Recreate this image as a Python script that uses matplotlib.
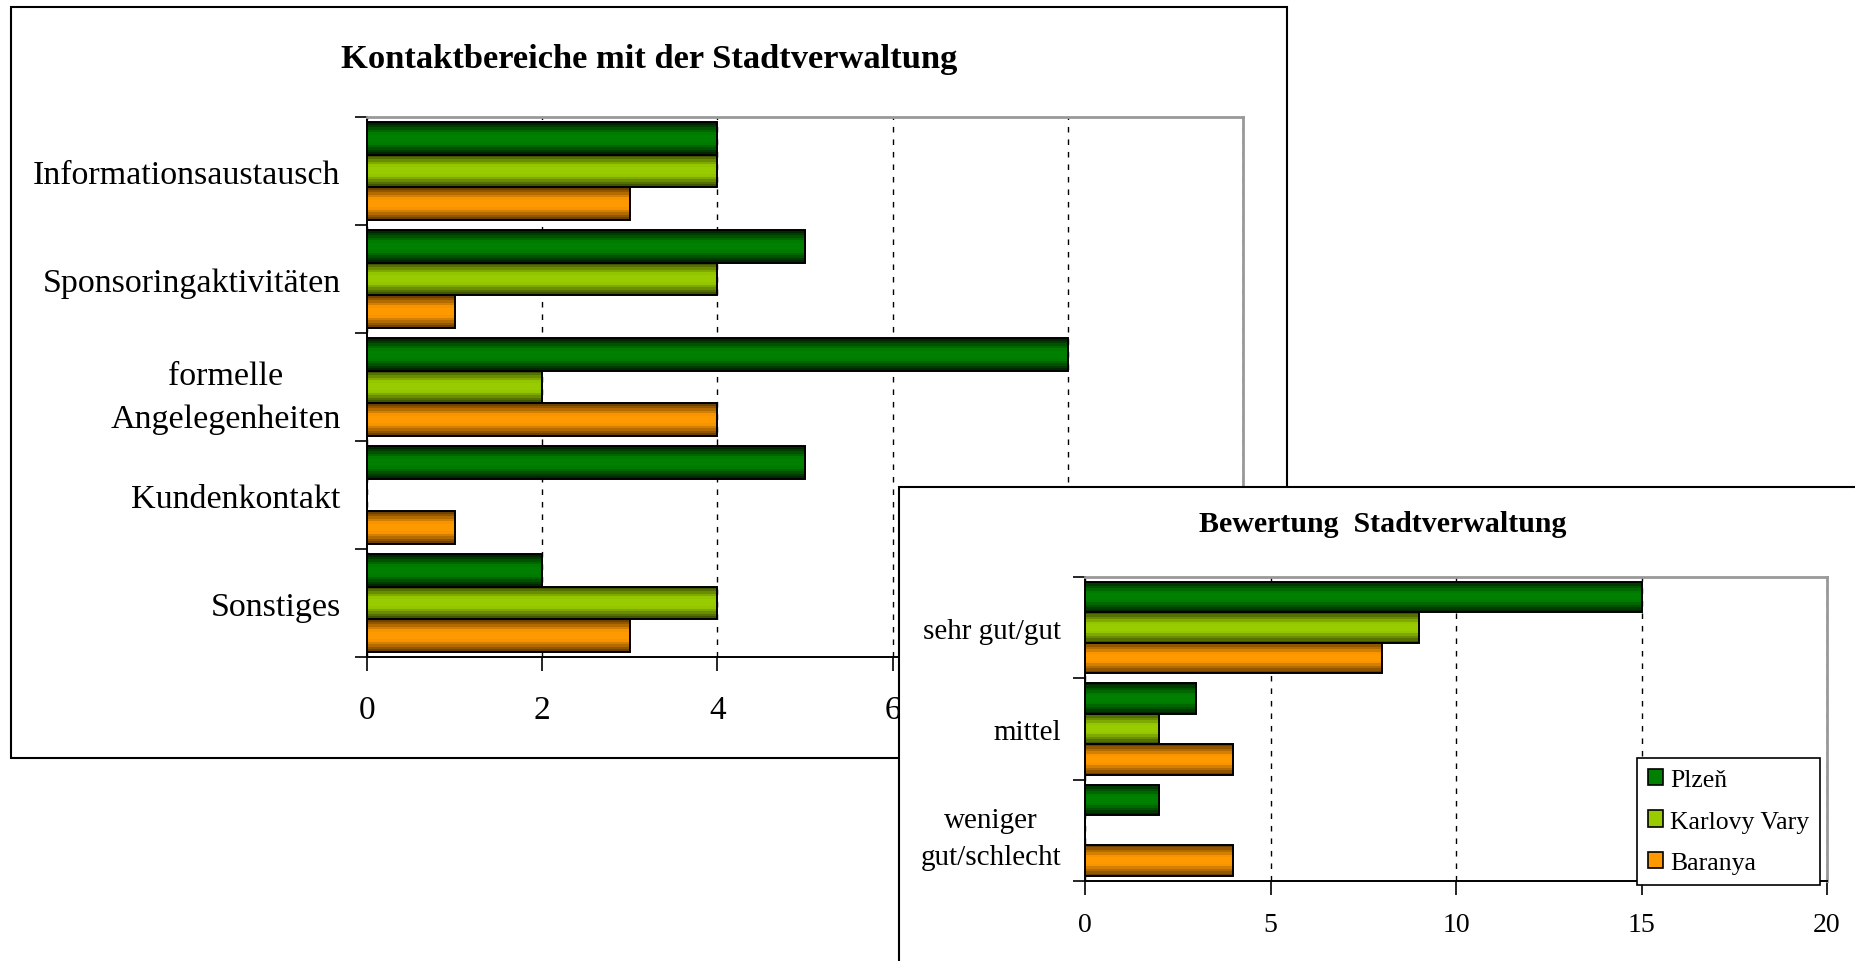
import numpy as np
import matplotlib
matplotlib.use("Agg")
import matplotlib.pyplot as plt
from matplotlib.colors import LinearSegmentedColormap
from matplotlib.patches import Rectangle, Patch

plt.rcParams["font.family"] = ["Liberation Serif", "DejaVu Serif"]

# --- data ---
series = ["Plzeň", "Karlovy Vary", "Baranya"]

kontakt_cats = ["Informationsaustausch", "Sponsoringaktivitäten",
                "formelle\nAngelegenheiten", "Kundenkontakt", "Sonstiges"]
kontakt_plzen = [4, 5, 8, 5, 2]
kontakt_kv = [4, 4, 2, 0, 4]
kontakt_baranya = [3, 1, 4, 1, 3]

bewertung_cats = ["sehr gut/gut", "mittel", "weniger\ngut/schlecht"]
bewertung_plzen = [15, 3, 2]
bewertung_kv = [9, 2, 0]
bewertung_baranya = [8, 4, 4]

# light (centre) and dark (edge) shade of each series
light = ["#008000", "#99cc00", "#ff9900"]
dark = ["#002800", "#405500", "#6e4200"]

H = 0.3  # bar height per series


def shaded_bars(ax, cats, values, xmax, ticks, label_size, tick_size, tick_pad):
    y = np.arange(len(cats))
    for i, vals in enumerate(values):
        bars = ax.barh(y - H + i * H, vals, height=H, facecolor="none",
                       edgecolor="black", linewidth=1.4, zorder=3)
        cmap = LinearSegmentedColormap.from_list(
            "c%d" % i, [(0, light[i]), (0.3, light[i]), (1, dark[i])])
        grad = np.abs(np.linspace(-1, 1, 13)).reshape(-1, 1)
        for b in bars:
            if b.get_width() == 0:
                continue
            x0, y0 = b.get_x(), b.get_y()
            im = ax.imshow(grad, cmap=cmap, aspect="auto", interpolation="nearest",
                           extent=(x0, x0 + b.get_width(), y0 + b.get_height(), y0),
                           zorder=2)
            im.set_clip_path(b)

    ax.set_xlim(0, xmax)
    ax.set_ylim(len(cats) - 0.5, -0.5)
    ax.set_aspect("auto")
    ax.set_xticks(ticks)
    ax.set_xticklabels([str(t) for t in ticks], fontsize=tick_size)
    ax.set_yticks(np.arange(len(cats) + 1) - 0.5)
    ax.set_yticklabels([])
    ax.set_yticks(y, minor=True)
    ax.set_yticklabels(cats, minor=True, fontsize=label_size, ha="right",
                       multialignment="center", linespacing=1.55)
    ax.tick_params(axis="y", which="major", length=9, width=1.2, direction="out")
    ax.tick_params(axis="y", which="minor", length=0, pad=tick_pad[1])
    ax.tick_params(axis="x", length=10, width=1.2, direction="out", pad=tick_pad[0])
    ax.xaxis.grid(True, linestyle=(0, (4, 5)), color="black", linewidth=1.0)
    ax.set_axisbelow(True)
    for s in ["left", "bottom"]:
        ax.spines[s].set_color("black")
        ax.spines[s].set_linewidth(1.4)
    for s in ["top", "right"]:
        ax.spines[s].set_color("#999999")
        ax.spines[s].set_linewidth(2)


fig = plt.figure(figsize=(18.56, 9.62), dpi=100)

# chart 1 frame
box1 = Rectangle((0.0059, 0.211), 0.6875, 0.7807, transform=fig.transFigure,
                 facecolor="white", edgecolor="black", linewidth=1.5, zorder=0.5)
fig.patches.append(box1)

ax1 = fig.add_axes([0.1977, 0.3160, 0.4720, 0.5613])
ax1.set_zorder(1)
shaded_bars(ax1, kontakt_cats, [kontakt_plzen, kontakt_kv, kontakt_baranya],
            10, [0, 2, 4, 6, 8, 10], 24.5, 24, (17, 19))
fig.text(0.3497, 0.9385, "Kontaktbereiche mit der Stadtverwaltung",
         ha="center", va="center", fontsize=24.8, fontweight="bold", zorder=1)

# chart 2 frame (overlapping)
box2 = Rectangle((0.4844, -0.02), 0.53, 0.5127, transform=fig.transFigure,
                 facecolor="white", edgecolor="black", linewidth=1.5, zorder=2)
fig.patches.append(box2)

ax2 = fig.add_axes([0.5846, 0.0832, 0.3998, 0.3160])
ax2.set_zorder(3)
shaded_bars(ax2, bewertung_cats, [bewertung_plzen, bewertung_kv, bewertung_baranya],
            20, [0, 5, 10, 15, 20], 21, 20, (12, 17))
t2 = fig.text(0.7451, 0.4545, "Bewertung  Stadtverwaltung",
              ha="center", va="center", fontsize=21.5, fontweight="bold")
t2.set_zorder(3)

handles = [Patch(facecolor=light[i], edgecolor="black", linewidth=1.2) for i in range(3)]
leg = ax2.legend(handles, series, loc="upper left", bbox_to_anchor=(0.882, 0.211),
                 bbox_transform=fig.transFigure, fontsize=18.5, frameon=True,
                 fancybox=False, framealpha=1, edgecolor="black", borderaxespad=0,
                 handlelength=0.6, handleheight=0.6, handletextpad=0.27,
                 labelspacing=0.75, borderpad=0.42)
leg.get_frame().set_linewidth(1.2)
leg.set_zorder(10)

fig.savefig("out.png", dpi=100)
